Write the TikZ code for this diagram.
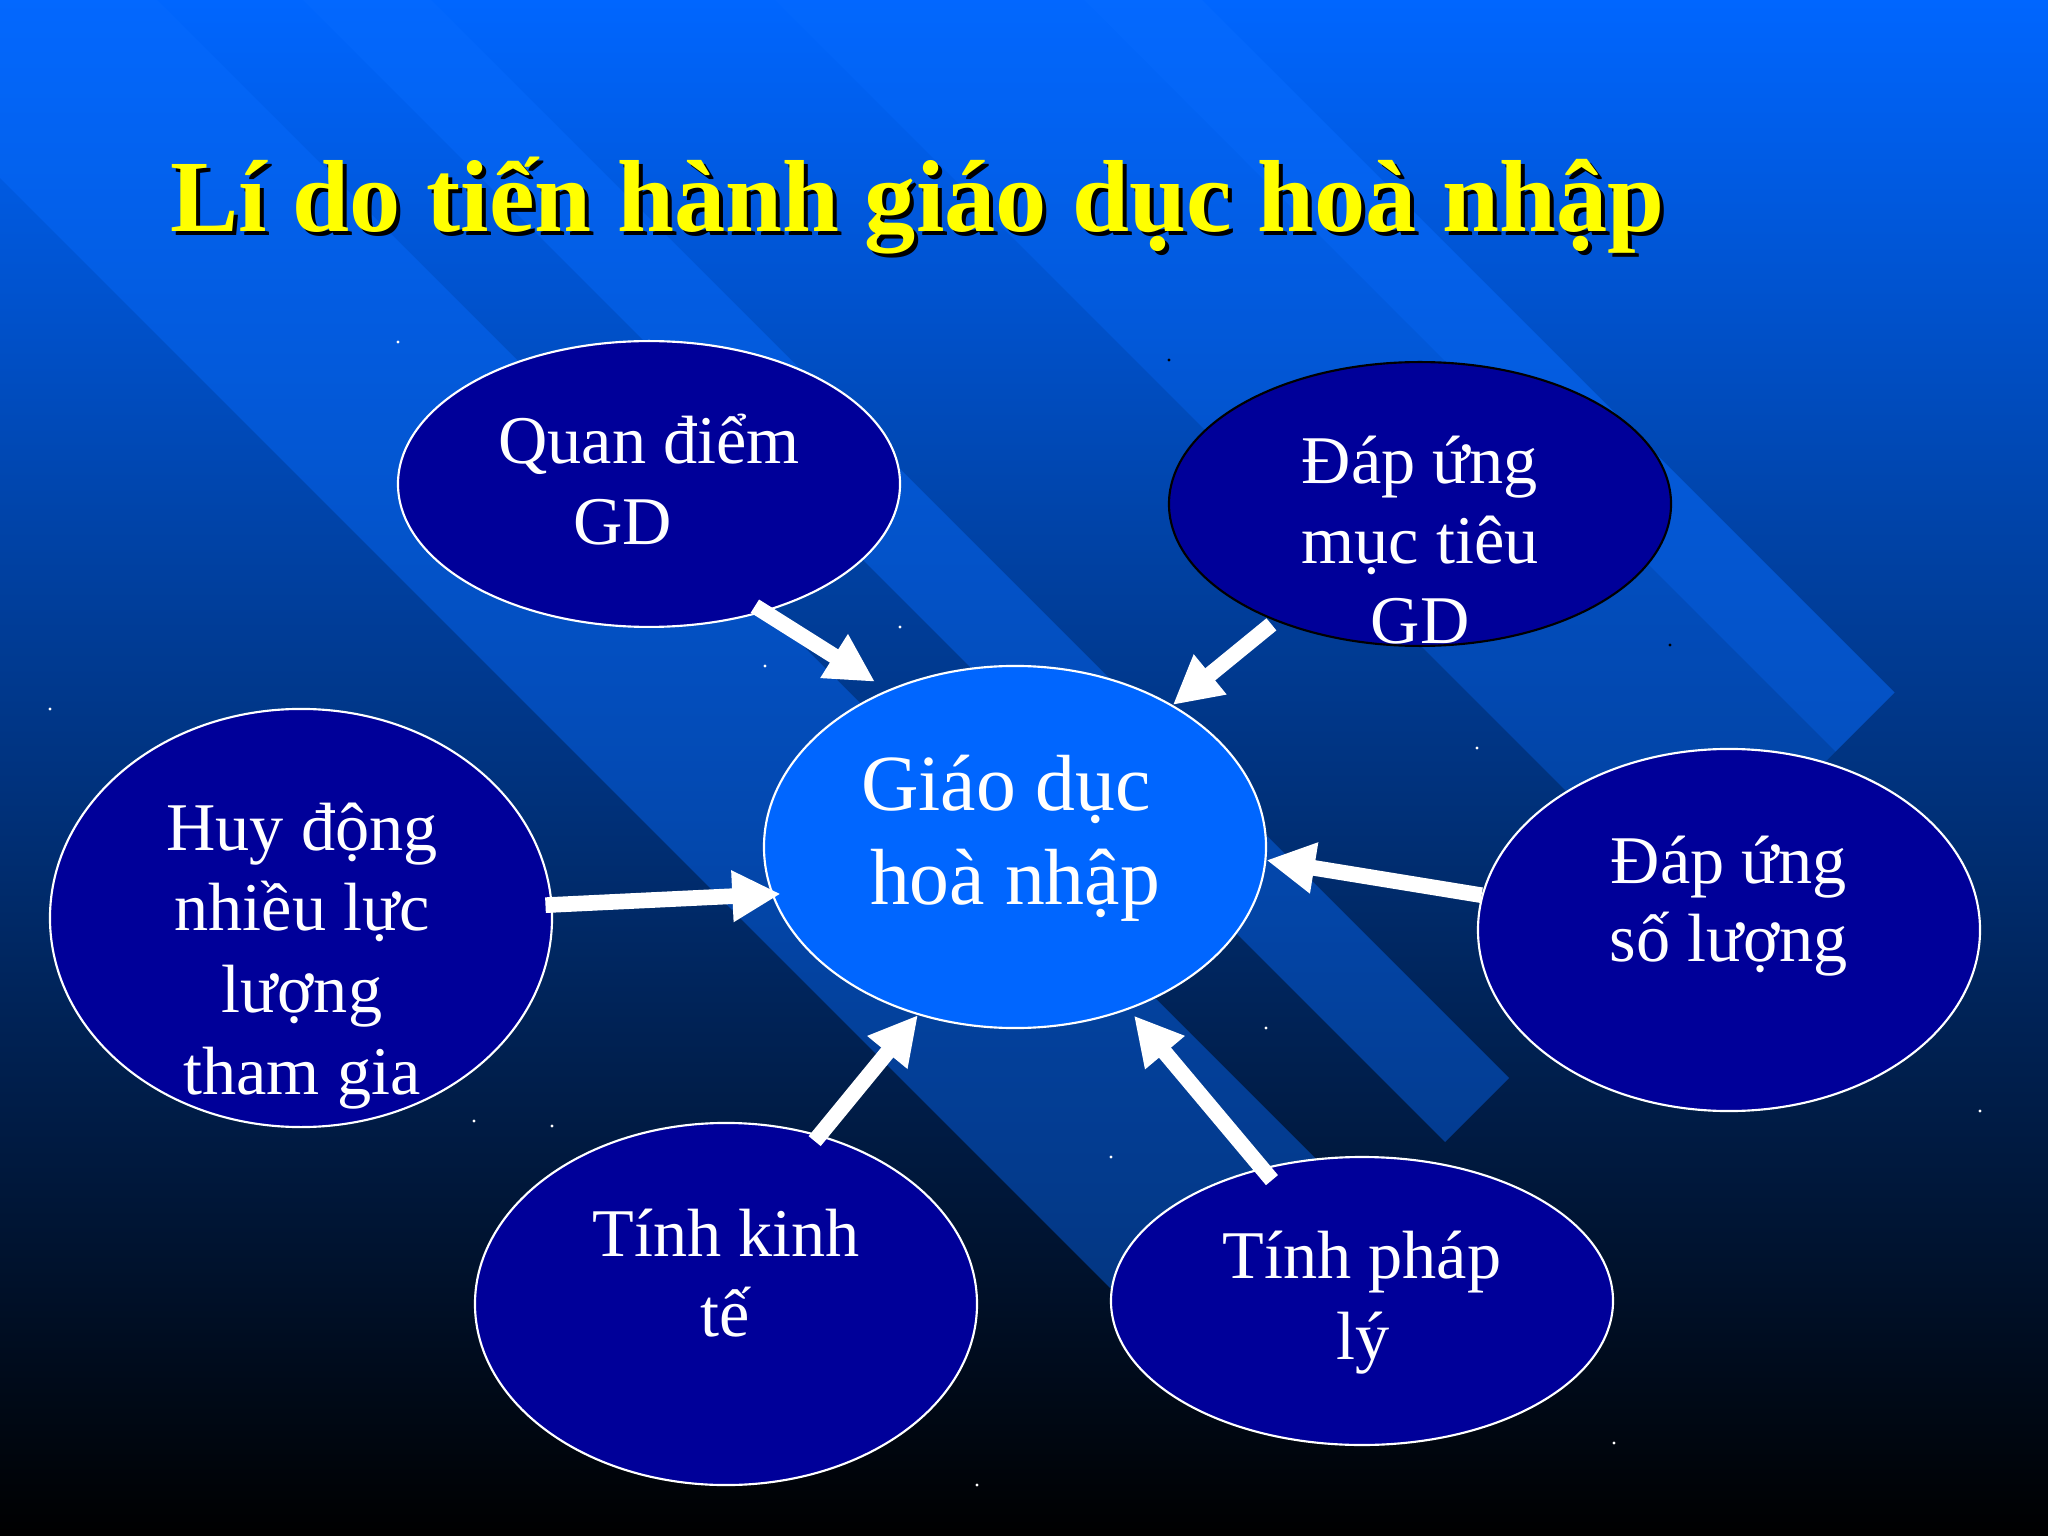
\documentclass[tikz,border=0pt]{standalone}
\usepackage{fontspec}
\setmainfont{Liberation Serif}
\usetikzlibrary{shapes.geometric,arrows.meta}
\definecolor{bgtop}{RGB}{0,102,255}
\definecolor{navyb}{RGB}{0,0,153}
\definecolor{centb}{RGB}{0,102,255}
\definecolor{bandc}{RGB}{8,108,255}
\definecolor{titley}{RGB}{255,255,0}
\tikzset{
  bub/.style={ellipse, draw=white, line width=0.75pt, fill=navyb, inner sep=0pt, minimum width=176.5pt},
  lbl/.style={text=white, font=\fontsize{24}{28}\selectfont, anchor=base, inner sep=0pt},
  clbl/.style={text=white, font=\fontsize{28}{32}\selectfont, anchor=base, inner sep=0pt},
  arr/.style={draw=white, line width=5.5pt, -{Triangle[length=17pt,width=17pt]}},
  band/.style={fill=bandc, fill opacity=0.42},
  star/.style={fill=white, draw=none},
}
\begin{document}
\begin{tikzpicture}[x=0.3515625pt,y=-0.3515625pt]
\useasboundingbox (0,0) rectangle (2048,1536);
% background
\shade[top color=bgtop, bottom color=black] (0,0) rectangle (2048,1536);
\begin{scope}
\clip (0,0) rectangle (2048,1536);
\fill[band] (-289,-111) -- (-121.5,-278.5) -- (1372,1215) -- (1204.5,1382.5) -- cycle;
\fill[band] (-48.5,-351.5) -- (15.5,-415.5) -- (1509,1078) -- (1445,1142) -- cycle;
\fill[band, fill opacity=0.32] (187.5,-587.5) -- (342,-742) -- (1835.5,751.5) -- (1681,906) -- cycle;
\fill[band, fill opacity=0.5] (342,-742) -- (401,-801) -- (1894.5,692.5) -- (1835.5,751.5) -- cycle;
\end{scope}
% dots
\foreach \p in {(398,342),(900,627),(765,666),(50,709),(1477,748),(1266,1028),(1980,1111),(474,1121),(552,1126),(1111,1157),(1614,1443),(977,1485)}
  \fill[star] \p circle (1.6);
\fill[black] (1169,360) circle (1.6);
\fill[black] (1670,645) circle (1.6);
% title
\node[anchor=base west, inner sep=0pt, text=black, font=\bfseries\fontsize{36}{40}\selectfont] (titleshadow) at (174,236) {Lí do tiến hành giáo dục hoà nhập};
\node[anchor=base west, inner sep=0pt, text=titley, font=\bfseries\fontsize{36}{40}\selectfont] (title) at (170,232) {Lí do tiến hành giáo dục hoà nhập};
% ellipses
\node[bub, minimum height=100.5pt] (q) at (649,484) {};
\node[bub, draw=black, minimum height=99.8pt] (m) at (1420,504) {};
\node[bub, minimum height=147pt] (h) at (301,918) {};
\node[bub, minimum height=127.3pt] (s) at (1729,930) {};
\node[bub, minimum height=127.3pt] (k) at (726,1304) {};
\node[bub, minimum height=101.25pt] (p) at (1362,1301) {};
\node[bub, fill=centb, minimum height=127.3pt] (c) at (1015,847) {};
% texts
\node[lbl] (q1) at (649,464) {Quan điểm};
\node[lbl] (q2) at (623,545) {GD};
\node[lbl] (m1) at (1420,484) {Đáp ứng};
\node[lbl] (m2) at (1420,564) {mục tiêu};
\node[lbl] (m3) at (1420,644) {GD};
\node[lbl] (h1) at (302,850) {Huy động};
\node[lbl] (h2) at (302,930) {nhiều lực};
\node[lbl] (h3) at (302,1012) {lượng};
\node[lbl] (h4) at (302,1094) {tham gia};
\node[lbl] (s1) at (1729,883) {Đáp ứng};
\node[lbl] (s2) at (1729,961) {số lượng};
\node[lbl] (k1) at (726,1256) {Tính kinh};
\node[lbl] (k2) at (725,1336) {tế};
\node[lbl] (p1) at (1362,1278) {Tính pháp};
\node[lbl] (p2) at (1363,1359) {lý};
\node[clbl] (c1) at (1006,810) {Giáo dục};
\node[clbl] (c2) at (1015,904) {hoà nhập};
% arrows
\draw[arr, shorten <=-3.9pt, shorten >=5.3pt] (q.-48) -- (c.129);
\draw[arr, shorten <=1.8pt] (m.219) -- (c.42);
\draw[arr, shorten <=-2.5pt, shorten >=-3.2pt] (h.3) -- (c.191);
\draw[arr] (s.172) -- (c.-3);
\draw[arr, shorten <=-2.8pt] (k.61) -- (c.-120);
\draw[arr, shorten <=-5.6pt, shorten >=2.8pt] (p.127) -- (c.-55);
\end{tikzpicture}
\end{document}
